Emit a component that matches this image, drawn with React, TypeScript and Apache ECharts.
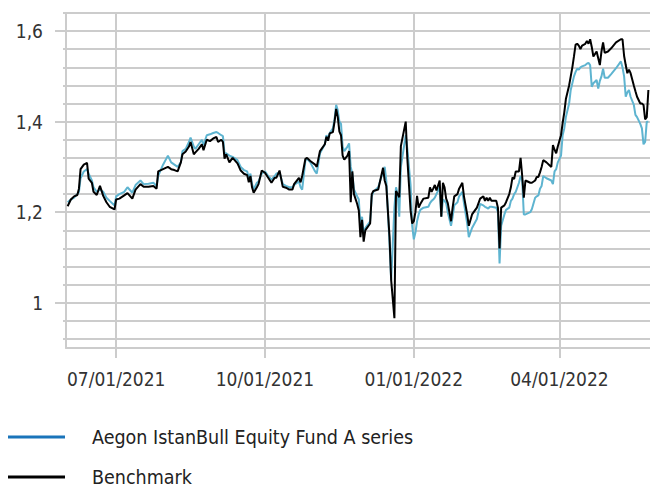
import React, { useEffect, useRef } from "react";
import * as echarts from "echarts";

const seriesNames = ["Aegon IstanBull Equity Fund A series", "Benchmark"];

const dates = [
  "2021-06-01","2021-06-03","2021-06-05","2021-06-07","2021-06-08","2021-06-09","2021-06-11","2021-06-13","2021-06-14","2021-06-16",
  "2021-06-17","2021-06-19","2021-06-21","2021-06-23","2021-06-25","2021-06-27","2021-06-30","2021-07-01","2021-07-03","2021-07-06",
  "2021-07-08","2021-07-11","2021-07-13","2021-07-16","2021-07-18","2021-07-21","2021-07-24","2021-07-26","2021-07-27","2021-07-30",
  "2021-08-02","2021-08-04","2021-08-06","2021-08-08","2021-08-10","2021-08-11","2021-08-13","2021-08-15","2021-08-16","2021-08-18",
  "2021-08-19","2021-08-21","2021-08-23","2021-08-24","2021-08-26","2021-08-28","2021-08-30","2021-09-01","2021-09-02","2021-09-04",
  "2021-09-05","2021-09-06","2021-09-07","2021-09-09","2021-09-11","2021-09-14","2021-09-16","2021-09-18","2021-09-20","2021-09-21",
  "2021-09-22","2021-09-23","2021-09-24","2021-09-26","2021-09-27","2021-09-29","2021-10-01","2021-10-03","2021-10-05","2021-10-07",
  "2021-10-08","2021-10-10","2021-10-12","2021-10-14","2021-10-16","2021-10-18","2021-10-19","2021-10-22","2021-10-23","2021-10-24",
  "2021-10-26","2021-10-27","2021-10-29","2021-11-01","2021-11-02","2021-11-04","2021-11-07","2021-11-08","2021-11-09","2021-11-10",
  "2021-11-12","2021-11-13","2021-11-14","2021-11-15","2021-11-16","2021-11-17","2021-11-18","2021-11-19","2021-11-21","2021-11-22",
  "2021-11-23","2021-11-24","2021-11-25","2021-11-27","2021-11-28","2021-11-29","2021-11-30","2021-12-01","2021-12-02","2021-12-05",
  "2021-12-06","2021-12-07","2021-12-10","2021-12-13","2021-12-14","2021-12-15","2021-12-17","2021-12-18","2021-12-20","2021-12-21",
  "2021-12-22","2021-12-23","2021-12-24","2021-12-27","2021-12-28","2021-12-30","2021-12-31","2022-01-01","2022-01-02","2022-01-03",
  "2022-01-04","2022-01-05","2022-01-07","2022-01-10","2022-01-11","2022-01-12","2022-01-13","2022-01-14","2022-01-15","2022-01-17",
  "2022-01-18","2022-01-19","2022-01-20","2022-01-21","2022-01-22","2022-01-24","2022-01-25","2022-01-26","2022-01-28","2022-01-29",
  "2022-01-31","2022-02-01","2022-02-03","2022-02-04","2022-02-06","2022-02-09","2022-02-11","2022-02-13","2022-02-14","2022-02-15",
  "2022-02-16","2022-02-17","2022-02-18","2022-02-21","2022-02-22","2022-02-23","2022-02-24","2022-02-26","2022-02-27","2022-03-01",
  "2022-03-02","2022-03-03","2022-03-04","2022-03-05","2022-03-07","2022-03-08","2022-03-09","2022-03-10","2022-03-11","2022-03-14",
  "2022-03-15","2022-03-17","2022-03-18","2022-03-19","2022-03-20","2022-03-21","2022-03-22","2022-03-24","2022-03-27","2022-03-28",
  "2022-03-29","2022-03-30","2022-03-31","2022-04-02","2022-04-03","2022-04-04","2022-04-05","2022-04-07","2022-04-08","2022-04-09",
  "2022-04-10","2022-04-11","2022-04-12","2022-04-13","2022-04-14","2022-04-15","2022-04-17","2022-04-18","2022-04-19","2022-04-20",
  "2022-04-21","2022-04-22","2022-04-24","2022-04-25","2022-04-26","2022-04-27","2022-04-28","2022-04-29","2022-05-01","2022-05-03",
  "2022-05-06","2022-05-09","2022-05-10","2022-05-11","2022-05-12","2022-05-13","2022-05-14","2022-05-15","2022-05-17","2022-05-18",
  "2022-05-19","2022-05-21","2022-05-22","2022-05-23","2022-05-24","2022-05-25","2022-05-26"
];

const benchmarkValues = [
  1.213,1.228,1.235,1.238,1.252,1.295,1.305,1.309,1.274,1.265,
  1.245,1.238,1.258,1.236,1.222,1.212,1.206,1.228,1.230,1.237,
  1.242,1.230,1.250,1.262,1.256,1.256,1.258,1.252,1.290,1.295,
  1.300,1.295,1.293,1.290,1.310,1.328,1.334,1.345,1.355,1.328,
  1.332,1.340,1.350,1.337,1.360,1.357,1.363,1.366,1.355,1.360,
  1.355,1.318,1.328,1.310,1.320,1.308,1.292,1.285,1.282,1.266,
  1.280,1.255,1.243,1.255,1.262,1.292,1.287,1.276,1.265,1.276,
  1.276,1.292,1.256,1.254,1.250,1.250,1.262,1.276,1.266,1.280,
  1.318,1.320,1.313,1.305,1.300,1.335,1.350,1.367,1.358,1.374,
  1.377,1.400,1.428,1.410,1.378,1.370,1.325,1.316,1.325,1.335,
  1.222,1.290,1.240,1.218,1.204,1.145,1.183,1.135,1.160,1.175,
  1.240,1.247,1.250,1.298,1.270,1.258,1.145,1.050,0.966,1.247,
  1.240,1.233,1.346,1.400,1.318,1.204,1.175,1.180,1.200,1.236,
  1.210,1.218,1.230,1.232,1.255,1.245,1.252,1.260,1.248,1.270,
  1.190,1.265,1.255,1.230,1.220,1.180,1.210,1.235,1.240,1.252,
  1.265,1.235,1.195,1.170,1.195,1.210,1.230,1.235,1.225,1.232,
  1.225,1.232,1.225,1.225,1.210,1.120,1.210,1.215,1.222,1.240,
  1.255,1.277,1.273,1.290,1.290,1.320,1.280,1.232,1.270,1.265,
  1.265,1.270,1.278,1.278,1.288,1.300,1.315,1.310,1.300,1.348,
  1.338,1.330,1.345,1.370,1.397,1.420,1.450,1.480,1.500,1.520,
  1.544,1.570,1.572,1.568,1.560,1.568,1.572,1.578,1.572,1.582,
  1.565,1.544,1.555,1.540,1.525,1.555,1.575,1.552,1.555,1.562,
  1.575,1.582,1.582,1.545,1.525,1.507,1.515,1.507,1.480,1.467,
  1.455,1.440,1.440,1.437,1.405,1.410,1.470
];

const fundValues = [
  1.222,1.228,1.232,1.240,1.245,1.275,1.290,1.295,1.285,1.270,
  1.255,1.245,1.250,1.245,1.232,1.225,1.215,1.235,1.240,1.245,
  1.255,1.243,1.260,1.270,1.262,1.263,1.265,1.258,1.280,1.305,
  1.325,1.310,1.305,1.300,1.310,1.335,1.340,1.355,1.365,1.345,
  1.340,1.350,1.360,1.348,1.370,1.372,1.375,1.377,1.375,1.370,
  1.368,1.330,1.330,1.325,1.322,1.315,1.300,1.293,1.290,1.275,
  1.285,1.262,1.250,1.265,1.268,1.285,1.290,1.280,1.272,1.280,
  1.285,1.288,1.262,1.258,1.255,1.255,1.260,1.268,1.255,1.250,
  1.315,1.318,1.310,1.290,1.285,1.330,1.350,1.370,1.362,1.375,
  1.385,1.405,1.437,1.425,1.400,1.395,1.345,1.335,1.345,1.352,
  1.300,1.285,1.250,1.235,1.228,1.170,1.190,1.150,1.165,1.180,
  1.235,1.245,1.255,1.290,1.300,1.270,1.130,1.050,1.210,1.255,
  1.240,1.190,1.300,1.370,1.340,1.260,1.170,1.140,1.155,1.180,
  1.195,1.205,1.210,1.212,1.220,1.225,1.228,1.232,1.240,1.255,
  1.190,1.228,1.225,1.220,1.200,1.170,1.190,1.215,1.222,1.235,
  1.245,1.220,1.175,1.145,1.165,1.185,1.218,1.215,1.212,1.210,
  1.208,1.212,1.212,1.210,1.200,1.087,1.170,1.195,1.205,1.210,
  1.225,1.230,1.240,1.245,1.265,1.280,1.270,1.195,1.195,1.200,
  1.207,1.232,1.235,1.237,1.252,1.258,1.280,1.275,1.270,1.262,
  1.290,1.295,1.310,1.325,1.370,1.385,1.410,1.440,1.470,1.485,
  1.500,1.510,1.517,1.515,1.520,1.522,1.525,1.528,1.530,1.525,
  1.477,1.485,1.492,1.473,1.490,1.500,1.517,1.497,1.497,1.505,
  1.518,1.533,1.520,1.500,1.455,1.465,1.470,1.455,1.437,1.415,
  1.410,1.395,1.385,1.350,1.355,1.400,1.400
];

const xTickDates = ["2021-07-01", "2021-10-01", "2022-01-01", "2022-04-01"];
const xRange = ["2021-05-31", "2022-05-27"];
const yRange = [0.9, 1.64];
const yGridValues = [0.92, 0.96, 1.0, 1.04, 1.08, 1.12, 1.16, 1.2, 1.24, 1.28, 1.32, 1.36, 1.4, 1.44, 1.48, 1.52, 1.56, 1.6, 1.64];
const yLabelValues = [1, 1.2, 1.4, 1.6];
const legendColors = ["#1a74ba", "#000000"];
const lineColors = ["#5eb4d0", "#000000"];

const ts = (s: string) => {
  const [y, m, d] = s.split("-").map(Number);
  return new Date(y, m - 1, d).getTime();
};
const pad = (n: number) => (n < 10 ? "0" + n : String(n));

const FONT = "'DejaVu Sans Condensed', 'DejaVu Sans', sans-serif";
const GRID = "#cccccc";

export default function App() {
  const ref = useRef<HTMLDivElement>(null);
  useEffect(() => {
    if (!ref.current) return;
    const chart = echarts.init(ref.current, undefined, { renderer: "svg" });
    const fundData = dates.map((d, i) => [ts(d), fundValues[i]]);
    const benchData = dates.map((d, i) => [ts(d), benchmarkValues[i]]);
    const xTicks = xTickDates.map(ts);
    const legendBase = {
      orient: "horizontal",
      left: 8,
      padding: 0,
      itemWidth: 57,
      itemHeight: 3,
      icon: "rect",
      selectedMode: false,
      textStyle: { fontFamily: FONT, fontSize: 19.5, color: "#222222", padding: [0, 0, 0, 22], lineHeight: 18 },
    };
    chart.setOption({
      animation: false,
      backgroundColor: "#ffffff",
      grid: { left: 66, top: 13, right: 0, bottom: 141, containLabel: false },
      legend: [
        { ...legendBase, top: 427, data: [{ name: seriesNames[0], itemStyle: { color: legendColors[0] } }] },
        { ...legendBase, top: 467, data: [{ name: seriesNames[1], itemStyle: { color: legendColors[1] } }] },
      ],
      xAxis: {
        type: "value",
        min: ts(xRange[0]),
        max: ts(xRange[1]),
        axisLine: { show: true, lineStyle: { color: GRID, width: 2 } },
        axisTick: {
          show: true,
          length: 10,
          customValues: xTicks,
          lineStyle: { color: GRID, width: 2 },
        },
        splitLine: { show: true, lineStyle: { color: GRID, width: 2 } },
        axisLabel: {
          customValues: xTicks,
          margin: 21,
          fontFamily: FONT,
          fontSize: 19,
          color: "#333333",
          formatter: (v: number) => {
            const d = new Date(v);
            return pad(d.getMonth() + 1) + "/" + pad(d.getDate()) + "/" + d.getFullYear();
          },
        },
      },
      yAxis: [
        {
          type: "value",
          min: yRange[0],
          max: yRange[1],
          position: "left",
          axisLine: { show: true, lineStyle: { color: GRID, width: 2 } },
          axisTick: { show: true, length: 3, customValues: yGridValues, lineStyle: { color: GRID, width: 2 } },
          splitLine: { show: true, lineStyle: { color: GRID, width: 2 } },
          axisLabel: { show: false },
        },
        {
          type: "value",
          min: yRange[0],
          max: yRange[1],
          position: "left",
          axisLine: { show: false },
          axisTick: { show: true, length: 11, customValues: yLabelValues, lineStyle: { color: GRID, width: 2 } },
          splitLine: { show: false },
          axisLabel: {
            customValues: yLabelValues,
            margin: 23,
            fontFamily: FONT,
            fontSize: 19,
            color: "#333333",
            formatter: (v: number) => String(v).replace(".", ","),
          },
        },
      ],
      series: [
        {
          name: seriesNames[0],
          type: "line",
          data: fundData,
          showSymbol: false,
          symbol: "none",
          lineStyle: { color: lineColors[0], width: 2 },
          itemStyle: { color: lineColors[0] },
          z: 2,
        },
        {
          name: seriesNames[1],
          type: "line",
          data: benchData,
          showSymbol: false,
          symbol: "none",
          lineStyle: { color: lineColors[1], width: 2 },
          itemStyle: { color: lineColors[1] },
          z: 3,
        },
      ],
    });
    return () => chart.dispose();
  }, []);
  return <div ref={ref} style={{ position: "fixed", left: 0, top: 0, width: 650, height: 489 }} />;
}
